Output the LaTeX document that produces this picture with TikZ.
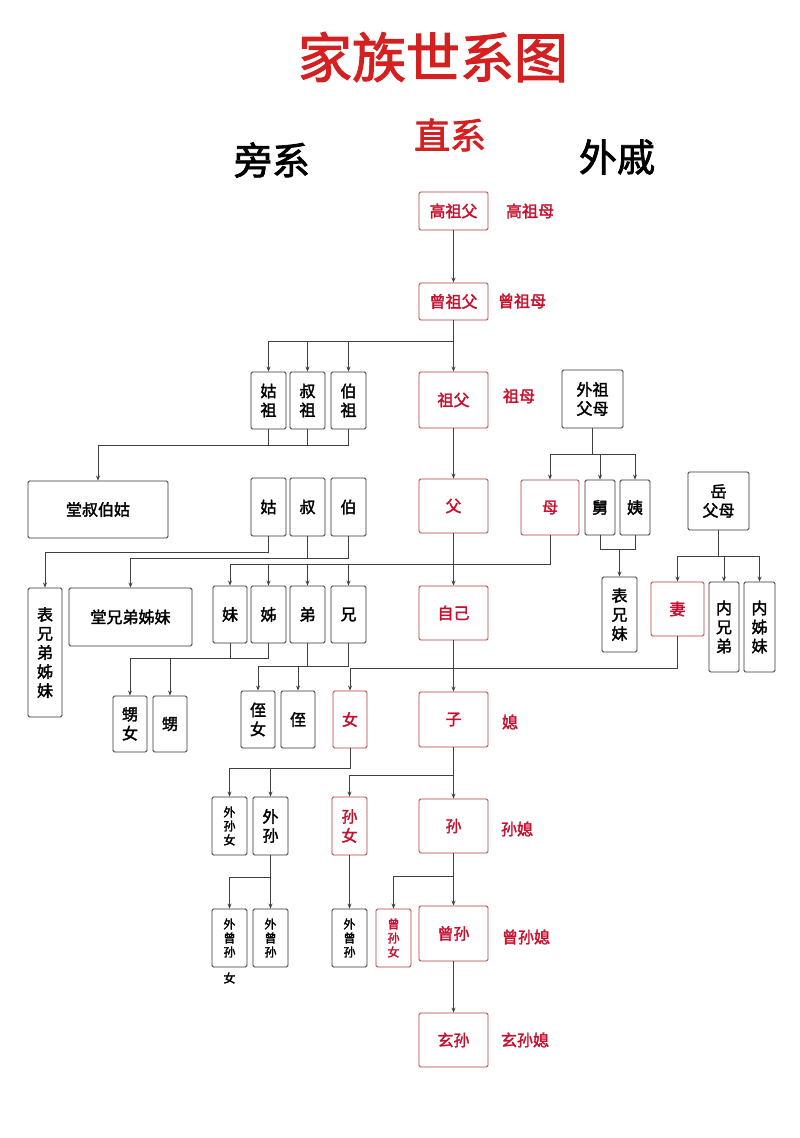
\documentclass[tikz,border=0pt]{standalone}
\usepackage{fontspec}
\newfontfamily\cjk{Noto Sans CJK SC}[AutoFakeBold=2]
\usetikzlibrary{arrows.meta}
\definecolor{tred}{HTML}{D42020}
\definecolor{bred}{HTML}{B03A3A}
\definecolor{xred}{HTML}{C8102E}
\newcommand\bx[7]{\pgfmathsetmacro\bw{#4-#2}\pgfmathsetmacro\bh{#5-#3}%
\node[#6,minimum width=\bw pt,minimum height=\bh pt] (#1) at ({(#2+#4)/2},{(#3+#5)/2}) {#7};}
\begin{document}
\begin{tikzpicture}[x=1pt,y=-1pt,
 b/.style={draw=black!80,line width=0.9pt,rounded corners=1.5pt,inner sep=0pt,align=center,font=\cjk\bfseries\fontsize{16}{19}\selectfont},
 s/.style={b,font=\cjk\bfseries\fontsize{12}{14}\selectfont},
 r/.style={b,draw=bred,text=xred},
 rs/.style={s,draw=bred,text=xred},
 lab/.style={text=xred,font=\cjk\bfseries\fontsize{16}{19}\selectfont},
 ln/.style={draw=black!75,line width=0.9pt},
 arr/.style={ln,-{Stealth[length=5pt,width=4pt]}}]
\useasboundingbox[fill=white] (0,0) rectangle (800,1138);
% titles
\node[text=tred,font=\cjk\bfseries\fontsize{54}{60}\selectfont] (title) at (433,57) {家族世系图};
\node[font=\cjk\bfseries\fontsize{38}{42}\selectfont] (pang) at (272,160) {旁系};
\node[text=tred,font=\cjk\bfseries\fontsize{36}{40}\selectfont] (zhi) at (450,135) {直系};
\node[font=\cjk\bfseries\fontsize{38}{42}\selectfont] (wai) at (617,157) {外戚};
% main line
\bx{gzf}{419}{192}{488}{230}{r}{高祖父}
\bx{czf}{419}{283}{488}{320}{r}{曾祖父}
\bx{zf}{419}{372}{488}{428}{r}{祖父}
\bx{fu}{419}{479}{488}{533}{r}{父}
\bx{zj}{419}{586}{488}{640}{r}{自己}
\bx{zi}{419}{692}{488}{747}{r}{子}
\bx{sun}{419}{799}{488}{853}{r}{孙}
\bx{zs}{419}{906}{488}{961}{r}{曾孙}
\bx{xs}{419}{1013}{488}{1067}{r}{玄孙}
\node[lab] (l1) at (530,211) {高祖母};
\node[lab] (l2) at (522,301) {曾祖母};
\node[lab] (l3) at (519,396) {祖母};
\node[lab] (l4) at (510,722) {媳};
\node[lab] (l5) at (517,829) {孙媳};
\node[lab] (l6) at (526,937) {曾孙媳};
\node[lab] (l7) at (525,1040) {玄孙媳};
% left
\bx{guzu}{251}{372}{286}{429}{b}{姑\\祖}
\bx{shuzu}{290}{372}{325}{429}{b}{叔\\祖}
\bx{bozu}{331}{372}{366}{429}{b}{伯\\祖}
\bx{tsbg}{28}{481}{168}{538}{b}{堂叔伯姑}
\bx{gu}{251}{478}{286}{536}{b}{姑}
\bx{shu}{290}{478}{325}{536}{b}{叔}
\bx{bo}{331}{478}{366}{536}{b}{伯}
\bx{bxd}{28}{588}{62}{717}{b}{表\\兄\\弟\\姊\\妹}
\bx{txd}{69}{588}{192}{646}{b}{堂兄弟姊妹}
\bx{mei}{213}{586}{247}{643}{b}{妹}
\bx{jie}{251}{586}{286}{643}{b}{姊}
\bx{di}{290}{586}{325}{643}{b}{弟}
\bx{xiong}{331}{586}{366}{643}{b}{兄}
\bx{shengnv}{113}{696}{147}{752}{b}{甥\\女}
\bx{sheng}{153}{696}{187}{752}{b}{甥}
\bx{zhinv}{241}{691}{275}{748}{b}{侄\\女}
\bx{zhi}{281}{691}{315}{748}{b}{侄}
\bx{nv}{333}{691}{367}{748}{r}{女}
\bx{wsn}{212}{797}{247}{855}{s}{外\\孙\\女}
\bx{ws}{253}{797}{288}{855}{b}{外\\孙}
\bx{snv}{332}{797}{367}{855}{r}{孙\\女}
\bx{wzsn}{212}{909}{247}{967}{s}{外\\曾\\孙}
\node[font=\cjk\bfseries\fontsize{12}{14}\selectfont] (wzsnx) at (229.5,978) {女};
\bx{wzs}{253}{909}{288}{967}{s}{外\\曾\\孙}
\bx{wzsb}{332}{909}{367}{967}{s}{外\\曾\\孙}
\bx{zsn}{376}{909}{411}{967}{rs}{曾\\孙\\女}
% right
\bx{wzfm}{562}{370}{623}{428}{b}{外祖\\父母}
\bx{mu}{521}{480}{579}{535}{r}{母}
\bx{jiu}{585}{480}{615}{535}{b}{舅}
\bx{yi}{620}{480}{650}{535}{b}{姨}
\bx{bxm}{602}{577}{637}{652}{b}{表\\兄\\妹}
\bx{yfm}{688}{472}{749}{530}{b}{岳\\父母}
\bx{qi}{651}{582}{704}{636}{r}{妻}
\bx{nxd}{709}{582}{739}{672}{b}{内\\兄\\弟}
\bx{nzm}{744}{582}{775}{672}{b}{内\\姊\\妹}
% coordinates
\coordinate (j1) at (453.5,341);
\coordinate (k0) at (0,445);
\coordinate (k1) at (0,552);
\coordinate (k2) at (0,558);
\coordinate (k3) at (0,564);
\coordinate (k4) at (0,658);
\coordinate (k5) at (0,666);
\coordinate (k6) at (0,668);
\coordinate (k7) at (0,454);
\coordinate (k8) at (0,549);
\coordinate (k9) at (0,556);
\coordinate (k10) at (0,768);
\coordinate (k11) at (0,775);
\coordinate (k12) at (0,877);
\coordinate (k13) at (0,876);
% main arrows
\draw[arr] (gzf) -- (czf);
\draw[arr] (czf) -- (zf);
\draw[arr] (zf) -- (fu);
\draw[arr] (fu) -- (zj);
\draw[arr] (zj) -- (zi);
\draw[arr] (zi) -- (sun);
\draw[arr] (sun) -- (zs);
\draw[arr] (zs) -- (xs);
% grand uncles
\draw[arr] (j1) -| (guzu.north);
\draw[arr] (shuzu.north|-j1) -- (shuzu.north);
\draw[arr] (bozu.north|-j1) -- (bozu.north);
\draw[ln] (guzu.south) -- (guzu.south|-k0);
\draw[ln] (shuzu.south) -- (shuzu.south|-k0);
\draw[arr] (bozu.south) |- (tsbg.north|-k0) -- (tsbg.north);
% uncles
\draw[arr] (gu.south) |- (bxd.north|-k1) -- (bxd.north);
\draw[ln] (shu.south) -- (shu.south|-k2);
\draw[arr] (bo.south) |- (txd.north|-k2) -- (txd.north);
% siblings
\draw[ln] (mu.south) |- (mei.north|-k3);
\draw[arr] (mei.north|-k3) -- (mei.north);
\draw[arr] (jie.north|-k3) -- (jie.north);
\draw[arr] (di.north|-k3) -- (di.north);
\draw[arr] (xiong.north|-k3) -- (xiong.north);
\draw[ln] (mei.south) -- (mei.south|-k4);
\draw[ln] (jie.south) |- (shengnv.north|-k4);
\draw[arr] (shengnv.north|-k4) -- (shengnv.north);
\draw[arr] (sheng.north|-k4) -- (sheng.north);
\draw[ln] (di.south) -- (di.south|-k5);
\draw[ln] (xiong.south) |- (zhinv.north|-k5);
\draw[arr] (zhinv.north|-k5) -- (zhinv.north);
\draw[arr] (zhi.north|-k5) -- (zhi.north);
\draw[arr] (qi.south) |- (nv.north|-k6) -- (nv.north);
% mother side
\draw[ln] (wzfm.south) -- (wzfm.south|-k7);
\draw[ln] (mu.north|-k7) -- (yi.north|-k7);
\draw[arr] (mu.north|-k7) -- (mu.north);
\draw[arr] (jiu.north|-k7) -- (jiu.north);
\draw[arr] (yi.north|-k7) -- (yi.north);
\draw[ln] (jiu.south) |- (yi.south|-k8) -- (yi.south);
\draw[arr] (bxm.north|-k8) -- (bxm.north);
\draw[ln] (yfm.south) -- (yfm.south|-k9);
\draw[ln] (qi.north|-k9) -- (nzm.north|-k9);
\draw[arr] (qi.north|-k9) -- (qi.north);
\draw[arr] (nxd.north|-k9) -- (nxd.north);
\draw[arr] (nzm.north|-k9) -- (nzm.north);
% descendants
\draw[ln] (nv.south) |- (wsn.north|-k10);
\draw[arr] (wsn.north|-k10) -- (wsn.north);
\draw[arr] (ws.north|-k10) -- (ws.north);
\draw[arr] (zi.south|-k11) -| (snv.north);
\draw[ln] (ws.south) |- (wzsn.north|-k12);
\draw[arr] (wzsn.north|-k12) -- (wzsn.north);
\draw[arr] (wzs.north|-k12) -- (wzs.north);
\draw[arr] (snv) -- (wzsb);
\draw[arr] (sun.south|-k13) -| (zsn.north);
\end{tikzpicture}
\end{document}
